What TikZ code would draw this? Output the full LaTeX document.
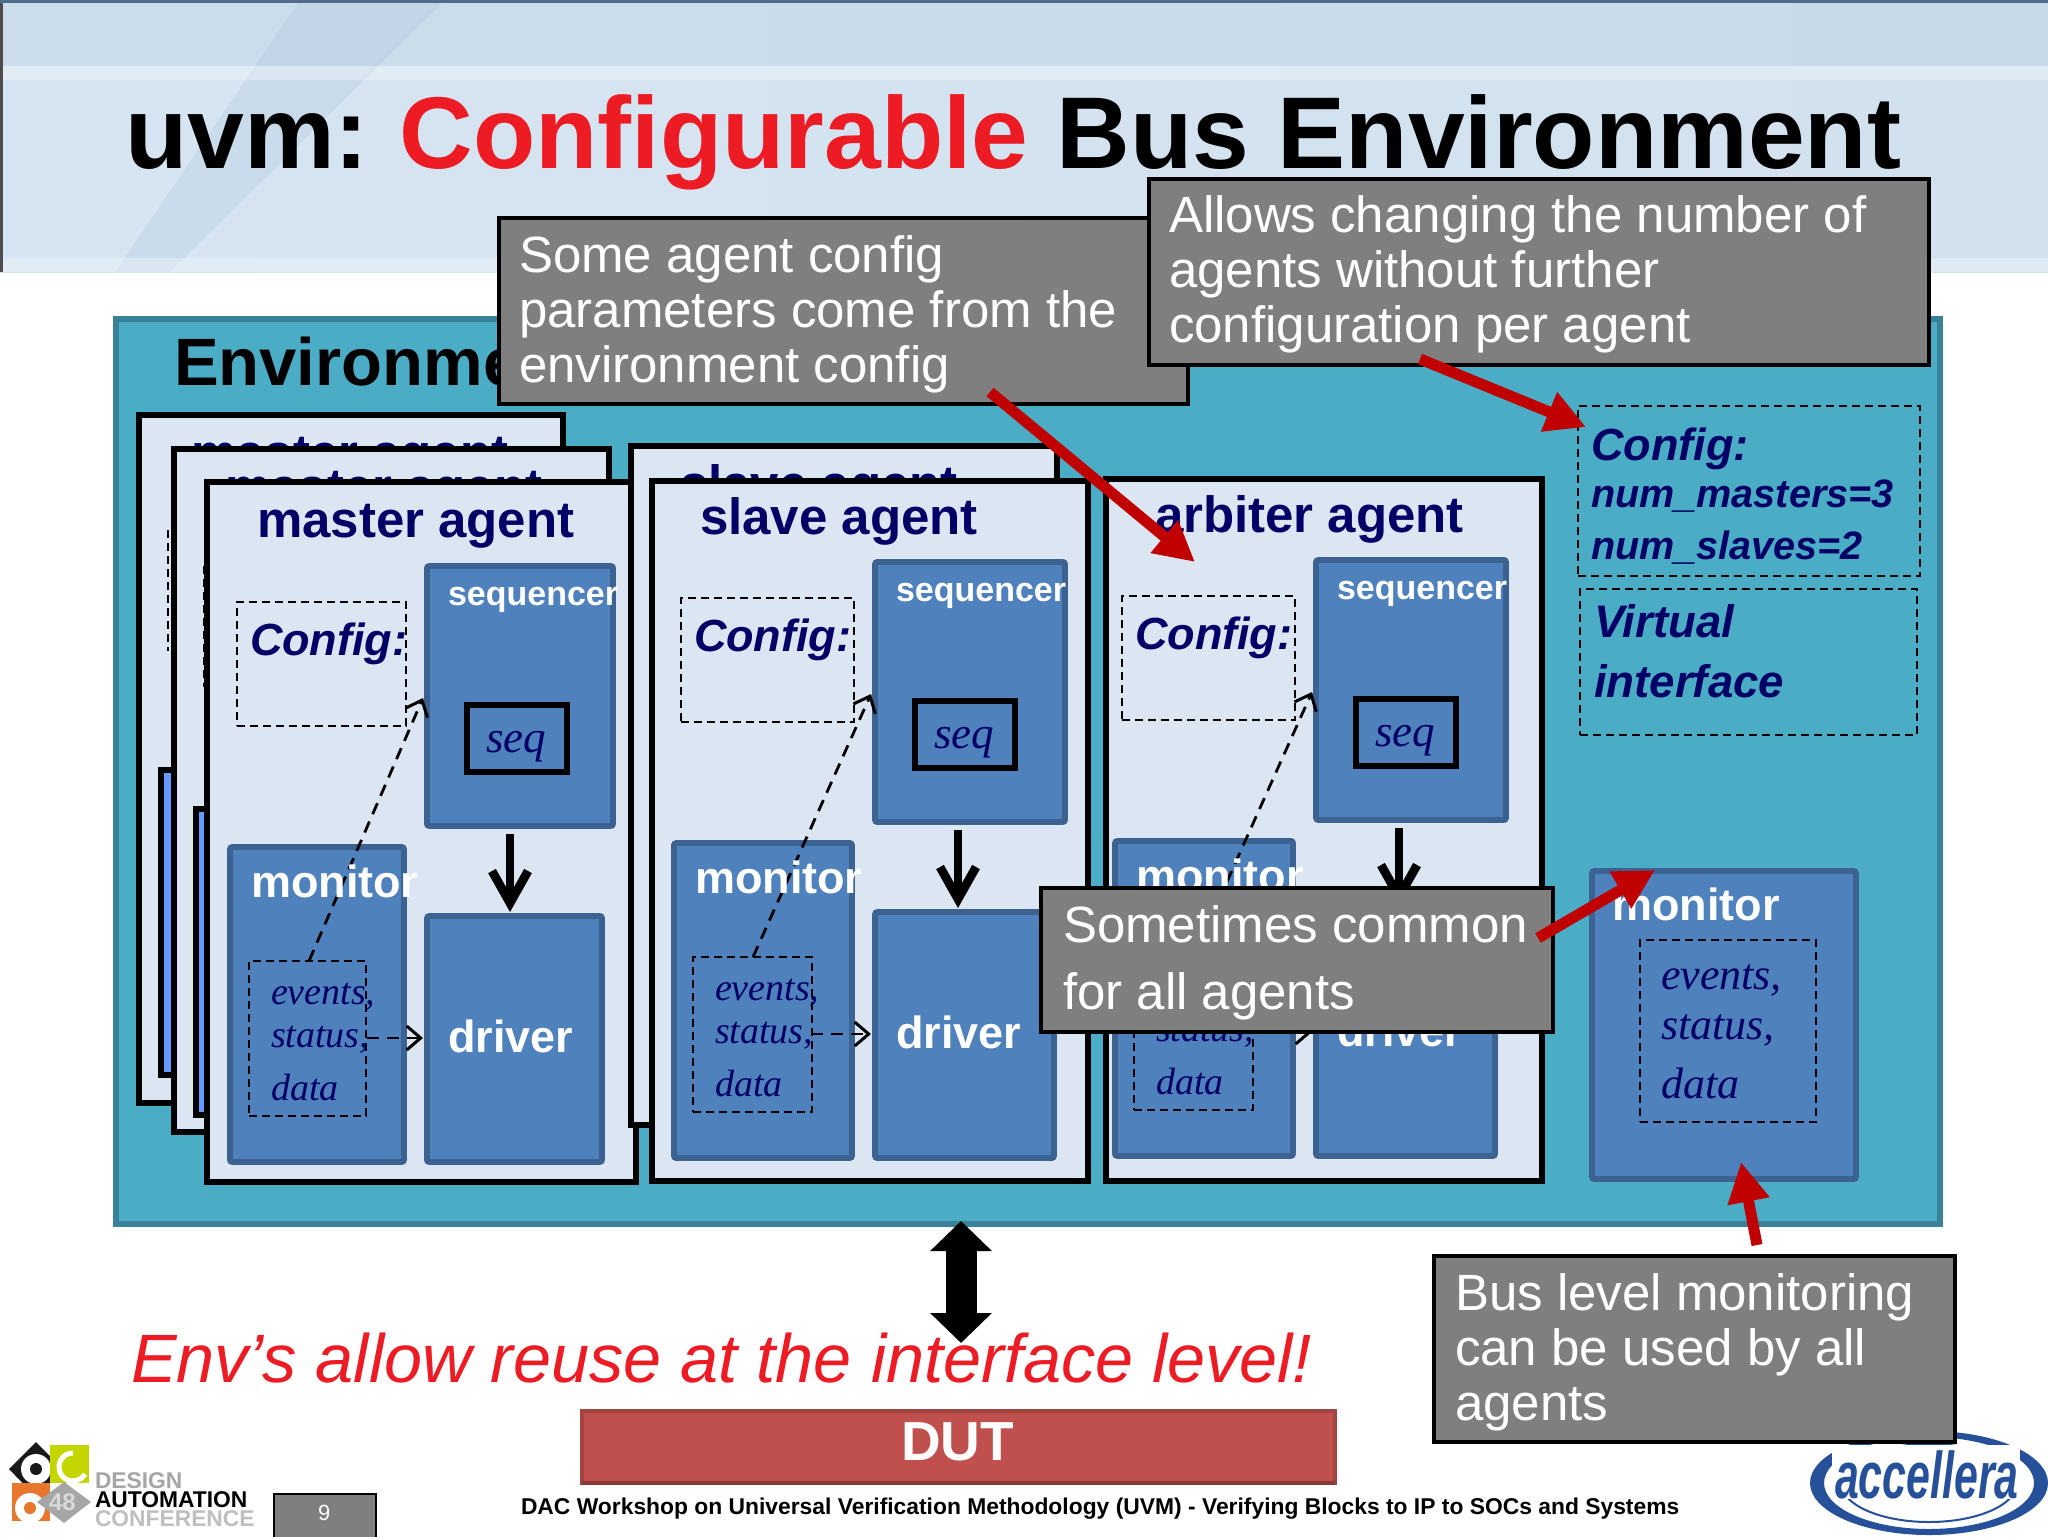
\documentclass[tikz,border=0pt]{standalone}
\usepackage{fontspec}
\usetikzlibrary{arrows.meta}
\setmainfont{Liberation Sans}
\newfontfamily\serifit[ItalicFont=Liberation Serif Italic]{Liberation Serif}
\definecolor{envfill}{HTML}{4BACC6}
\definecolor{envline}{HTML}{3A8299}
\definecolor{agentfill}{HTML}{DCE6F2}
\definecolor{boxfill}{HTML}{4F81BD}
\definecolor{boxline}{HTML}{3C6291}
\definecolor{navy}{HTML}{000066}
\definecolor{calloutgray}{HTML}{7F7F7F}
\definecolor{arrowred}{HTML}{C00000}
\definecolor{titlered}{HTML}{ED1C24}
\definecolor{dutfill}{HTML}{C0504D}
\definecolor{dutline}{HTML}{8C3836}
\definecolor{acc}{HTML}{27509B}
\definecolor{sliver}{HTML}{6699FF}
\definecolor{bandl}{HTML}{D6E5F1}
\definecolor{bandm}{HTML}{E0EBF5}
\definecolor{bandr}{HTML}{D2E1EE}
\definecolor{bandd}{HTML}{A9C4DC}
\definecolor{lime}{HTML}{C4D600}
\definecolor{dacorange}{HTML}{E8762D}
\newcommand\fs[1]{\fontsize{#1pt}{#1pt}\selectfont}
% name, style, x, y (north-west centre line), width, height, in pixels
\newcommand\bx[6]{\node[#2,inner sep=0pt,outer sep=0pt,minimum width={(#5)*0.5pt},minimum height={(#6)*0.5pt},anchor=north west] (#1) at (#3,#4) {};}
\tikzset{
  envbox/.style={draw=envline,fill=envfill,line width=2.6pt},
  agentbox/.style={draw=black,fill=agentfill,line width=3pt},
  unitbox/.style={draw=boxline,fill=boxfill,line width=2.8pt,rounded corners=1pt},
  seqbox/.style={draw=black,line width=2.7pt},
  slivbox/.style={draw=black,fill=sliver,line width=3pt},
  dashbox/.style={draw=black,line width=0.9pt,dash pattern=on 4pt off 2.5pt},
  calloutbox/.style={draw=black,fill=calloutgray,line width=1.7pt},
  dutbox/.style={draw=dutfill!85!black,fill=dutfill,line width=1.6pt},
  lbl/.style={anchor=base west,inner sep=0pt,outer sep=0pt},
  navybold/.style={lbl,text=navy,font=\fs{25.5}\bfseries},
  cfgtxt/.style={lbl,text=navy,font=\fs{22.5}\bfseries\itshape},
  unittxt/.style={lbl,text=white,font=\fs{22.5}\bfseries},
  seqtxt/.style={lbl,text=white,font=\fs{17}\bfseries},
  smalltxt/.style={lbl,text=navy,font=\serifit\fs{19}\itshape},
  callouttxt/.style={lbl,text=white,font=\fs{25.5}},
  redarrow/.style={draw=arrowred,line width=5.5pt,-{Triangle[length=20pt,width=20pt]}},
  blackarrow/.style={draw=black,line width=4.4pt,-{Straight Barb[length=16pt,width=18pt]}},
  dasharrow/.style={draw=black,line width=1.4pt,dash pattern=on 6pt off 4pt,-{Straight Barb[length=7pt,width=12pt,line width=1.5pt]}},
  dualarrow/.style={draw=black,line width=15.5pt,{Triangle[length=15pt,width=30pt]}-{Triangle[length=15pt,width=30pt]}}
}
% prefix, dx left column, dx right column, dy (upward), extra width
\newcommand\agent[5]{%
  \bx{#1cfg}{dashbox}{237+#2}{602-#4}{169+#5}{124}
  \node[cfgtxt] (#1cfgt) at (250+#2,655-#4) {Config:};
  \bx{#1seq}{unitbox}{427+#3}{566-#4}{186+#5}{260}
  \node[seqtxt] (#1seqt) at (448+#3,605-#4) {sequencer};
  \bx{#1sq}{seqbox}{467+#3}{705-#4}{100}{67}
  \node[lbl,text=navy,font=\serifit\fs{22.5}\itshape] (#1sqt) at (486+#3,752-#4) {seq};
  \bx{#1mon}{unitbox}{230+#2}{847-#4}{174+#5}{315}
  \bx{#1drv}{unitbox}{427+#3}{916-#4}{175+#5}{246}
  \node[unittxt] (#1drvt) at (448+#3,1052-#4) {driver};
  \bx{#1ev}{dashbox}{249+#2}{961-#4}{117+#5/2}{155}
  \coordinate (#1a) at (309+#2,961-#4);
  \coordinate (#1b) at (423+#3,698-#4);
  \draw[dasharrow] (#1a) -- (#1b);
  \node[unittxt] (#1mont) at (251+#2,897-#4) {monitor};
  \node[smalltxt] (#1e1) at (271+#2,1004-#4) {events,};
  \node[smalltxt] (#1e2) at (271+#2,1047-#4) {status,};
  \node[smalltxt] (#1e3) at (271+#2,1100-#4) {data};
  \coordinate (#1c) at (510+#3,834-#4);
  \coordinate (#1d) at (510+#3,912-#4);
  \draw[blackarrow] (#1c) -- (#1d);
  \coordinate (#1f) at (367+#2,1038-#4);
  \coordinate (#1g) at (423+#3,1038-#4);
  \draw[dasharrow] (#1f) -- (#1g);
}
\begin{document}
\begin{tikzpicture}[x=0.5pt,y=-0.5pt]
\useasboundingbox (0,0) rectangle (2048,1536);
\fill[white] (0,0) rectangle (2048,1536);
% title band
\shade[left color=bandl,middle color=bandm,right color=bandr,shading angle=90] (0,0) rectangle (2048,272);
\fill[bandd,opacity=0.25] (300,0) -- (445,0) -- (170,272) -- (115,272) -- cycle;
\fill[bandd,opacity=0.22] (0,3) rectangle (2048,66);
\fill[white,opacity=0.30] (0,66) rectangle (2048,80);
\fill[white,opacity=0.30] (0,258) rectangle (2048,272);
\fill[black!70] (0,0) rectangle (3,272);
\fill[boxline!70!gray] (0,0) rectangle (2048,3);
\node[lbl,font=\fs{51}\bfseries] (title) at (125,168) {uvm:\kern-3.5pt{} \textcolor{titlered}{Configurable} Bus Environment};
% environment
\bx{env}{envbox}{116}{319}{1824}{905}
\node[lbl,font=\fs{33.5}\bfseries] (envt) at (174,385) {Environment};
% stacked master agents
\bx{m1}{agentbox}{139}{415}{424}{688}
\node[navybold] (m1t) at (191,470) {master agent};
\bx{m1s}{slivbox}{161}{770}{30}{305}
\draw[dashbox] (168,530) -- (168,651);
\bx{m2}{agentbox}{174}{449}{435}{683}
\node[navybold] (m2t) at (225,504) {master agent};
\bx{m2s}{slivbox}{196}{809}{30}{306}
\draw[dashbox] (204,566) -- (204,687);
\bx{m3}{agentbox}{207}{482}{429}{700}
\node[navybold] (m3t) at (257,537) {master agent};
\agent{ma}{0}{0}{0}{0}
% slave agents
\bx{s1}{agentbox}{631}{446}{426}{679}
\node[navybold] (s1t) at (680,501) {slave agent};
\bx{s2}{agentbox}{652}{481}{436}{700}
\node[navybold] (s2t) at (700,534) {slave agent};
\agent{sa}{444}{448}{4}{4}
% arbiter agent
\bx{a1}{agentbox}{1106}{479}{436}{702}
\node[navybold] (a1t) at (1155,532) {arbiter agent};
\agent{ar}{885}{889}{6}{4}
% right column
\bx{rc}{dashbox}{1578}{406}{342}{170}
\node[cfgtxt] (rct) at (1591,460) {Config:};
\node[lbl,text=navy,font=\fs{19.8}\bfseries\itshape] (rc1) at (1591,507) {num\_masters=3};
\node[lbl,text=navy,font=\fs{19.8}\bfseries\itshape] (rc2) at (1591,559) {num\_slaves=2};
\bx{vi}{dashbox}{1580}{589}{337}{146}
\node[lbl,text=navy,font=\fs{22.8}\bfseries\itshape] (vi1) at (1594,637) {Virtual};
\node[lbl,text=navy,font=\fs{22.8}\bfseries\itshape] (vi2) at (1594,697) {interface};
\bx{bm}{unitbox}{1592}{871}{264}{308}
\node[unittxt] (bmt) at (1612,920) {monitor};
\bx{bme}{dashbox}{1640}{940}{176}{182}
\node[lbl,text=navy,font=\serifit\fs{22}\itshape] (bm1) at (1661,989) {events,};
\node[lbl,text=navy,font=\serifit\fs{22}\itshape] (bm2) at (1661,1039) {status,};
\node[lbl,text=navy,font=\serifit\fs{22}\itshape] (bm3) at (1661,1098) {data};
% bottom
\bx{dut}{dutbox}{582}{1411}{753}{72}
\draw[dutline,line width=2.2pt] (dut.south west) -- (dut.south east);
\node[lbl,text=white,font=\fs{27.5}\bfseries] (dutt) at (901,1460) {DUT};
\node[lbl,text=titlered,font=\fs{34.2}\itshape] (reuse) at (131,1382) {Env’s allow reuse at the interface level!};
\coordinate (dua) at (961,1221);
\coordinate (dub) at (961,1343);
\draw[dualarrow] (dua) -- (dub);
% accellera logo
\fill[acc,even odd rule] (1929,1483) ellipse [x radius=119,y radius=52] (1929,1483) ellipse [x radius=105,y radius=46];
\draw[acc,line width=1pt] (1929,1483) ellipse [x radius=88,y radius=39];
\node[inner sep=0pt,fill=white,minimum width=94pt,minimum height=27pt] (accbg) at (1926,1472) {};
\node[lbl,text=acc,font=\fs{33}\bfseries\itshape] (acct) at (1835,1498) {\scalebox{0.65}[1]{accellera}};
% callouts
\bx{co1}{calloutbox}{499}{218}{689}{186}
\node[callouttxt] (co1a) at (519,272) {Some agent config};
\node[callouttxt] (co1b) at (519,327) {parameters come from the};
\node[callouttxt] (co1c) at (519,382) {environment config};
\bx{co2}{calloutbox}{1149}{179}{780}{186}
\node[callouttxt] (co2a) at (1169,232) {Allows changing the number of};
\node[callouttxt] (co2b) at (1169,287) {agents without further};
\node[callouttxt] (co2c) at (1169,342) {configuration per agent};
\bx{co3}{calloutbox}{1041}{888}{512}{144}
\node[callouttxt] (co3a) at (1063,942) {Sometimes common};
\node[callouttxt] (co3b) at (1063,1009) {for all agents};
\bx{co4}{calloutbox}{1434}{1256}{521}{186}
\node[callouttxt] (co4a) at (1455,1310) {Bus level monitoring};
\node[callouttxt] (co4b) at (1455,1365) {can be used by all};
\node[callouttxt] (co4c) at (1455,1420) {agents};
% red arrows
\coordinate (r1a) at (990,392); \coordinate (r1b) at (1195,562);
\coordinate (r2a) at (1420,359); \coordinate (r2b) at (1586,427);
\coordinate (r3a) at (1538,938); \coordinate (r3b) at (1655,870);
\coordinate (r4a) at (1757,1245); \coordinate (r4b) at (1741,1162);
\draw[redarrow] (r1a) -- (r1b);
\draw[redarrow] (r2a) -- (r2b);
\draw[redarrow] (r3a) -- (r3b);
\draw[redarrow] (r4a) -- (r4b);
% footer
\node[lbl,font=\fs{11.42}\bfseries] (foot) at (521,1514) {DAC Workshop on Universal Verification Methodology (UVM) - Verifying Blocks to IP to SOCs and Systems};
\bx{pg}{draw=black,fill=calloutgray,line width=1pt}{274}{1494}{102}{50}
\node[lbl,text=white,font=\fs{11}] (pgt) at (318,1520) {9};
% DAC logo
\fill[black!90] (9,1469) -- (36,1442) -- (63,1469) -- (36,1497) -- cycle;
\fill[white] (36,1469) circle (15);
\fill[black!90] (36,1469) circle (6);
\fill[lime] (50,1445) rectangle (89,1483);
\draw[white,line width=2.5pt] (85,1474) arc (30:270:14);
\fill[dacorange] (12,1483) rectangle (50,1521);
\fill[white] (30,1508) circle (15);
\fill[dacorange] (30,1508) circle (6);
\fill[black!35] (37,1502) -- (64,1482) -- (91,1502) -- (64,1523) -- cycle;
\node[lbl,text=black!15,font=\fs{12}\bfseries] (lg48) at (49,1510) {48};
\node[lbl,text=black!35,font=\fs{11.4}\bfseries] (lg1) at (95,1488) {DESIGN};
\node[lbl,text=black,font=\fs{11.4}\bfseries] (lg2) at (95,1507) {AUTOMATION};
\node[lbl,text=black!25,font=\fs{11.4}\bfseries] (lg3) at (95,1526) {CONFERENCE};
\end{tikzpicture}
\end{document}
